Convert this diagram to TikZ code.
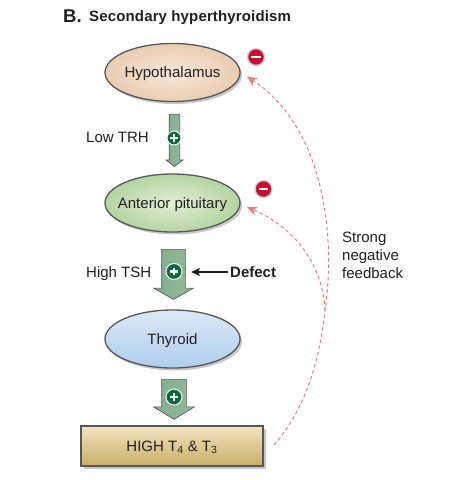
\documentclass[tikz,border=0pt]{standalone}
\usepackage{fontspec}
\setmainfont{Liberation Sans}
\usetikzlibrary{shapes.geometric,shapes.arrows,shadows,arrows.meta,calc}
\definecolor{ink}{HTML}{231F20}
\definecolor{edge}{HTML}{55585A}
\definecolor{fb}{HTML}{E2807C}
\definecolor{plusg}{HTML}{0B6B3A}
\definecolor{minusr}{HTML}{C8102E}
\definecolor{arrowtop}{HTML}{82AE8E}
\definecolor{arrowbot}{HTML}{93B89A}
\definecolor{HypoIn}{HTML}{F8E8D8}
\definecolor{HypoOut}{HTML}{EACDB2}
\definecolor{AntIn}{HTML}{E2EFD4}
\definecolor{AntOut}{HTML}{B4D4A2}
\definecolor{ThyTop}{HTML}{DCE9F6}
\definecolor{ThyBot}{HTML}{AECDEC}
\definecolor{HighTop}{HTML}{F2E4C0}
\definecolor{HighBot}{HTML}{C9AE66}
\newcommand{\fs}[1]{\fontsize{#1}{#1}\selectfont}
\newcommand{\organtext}[1]{\smash{\raisebox{-5pt}{\makebox[0pt]{#1}}}}
\tikzset{
  lab/.style={text=ink,font=\fs{15},inner sep=0pt},
  organ/.style={ellipse,draw=edge,line width=1.3pt,minimum width=135pt,minimum height=58pt,inner sep=0pt,text=ink,font=\fs{15},
    drop shadow={shadow xshift=2pt,shadow yshift=-2.5pt,opacity=.3,fill=black!70}},
  blockarrow/.style={single arrow,rotate=-90,draw=edge,line width=.7pt,inner sep=0pt,anchor=tail,
    left color=arrowtop,right color=arrowbot},
  plussign/.style={circle,fill=plusg,draw=white,line width=1pt,minimum size=#1,inner sep=0pt,
    path picture={\fill[white] ($(path picture bounding box.center)+(-3.8pt,-1.2pt)$) rectangle ($(path picture bounding box.center)+(3.8pt,1.2pt)$);
      \fill[white] ($(path picture bounding box.center)+(-1.2pt,-3.8pt)$) rectangle ($(path picture bounding box.center)+(1.2pt,3.8pt)$);}},
  minussign/.style={circle,fill=minusr,draw=black!18,line width=1.4pt,minimum size=17pt,inner sep=0pt,
    path picture={\fill[white] ($(path picture bounding box.center)+(-4.6pt,-1.4pt)$) rectangle ($(path picture bounding box.center)+(4.6pt,1.4pt)$);}},
  feedback/.style={draw=fb,line width=1pt,dash pattern=on 3.5pt off 2.8pt,
    -{Stealth[length=10pt,width=9pt,inset=3pt,fill=fb]}},
}
\begin{document}
\begin{tikzpicture}[x=1pt,y=-1pt]
\useasboundingbox[fill=white] (0,0) rectangle (458,480);
\node[anchor=base west,text=ink,inner sep=0pt,font=\fs{18.5}\bfseries] (letter) at (63,22.5) {B.};
\node[anchor=base west,text=ink,inner sep=0pt,font=\fs{15}\bfseries] (title) at (89,21) {\addfontfeatures{LetterSpace=1}Secondary hyperthyroidism};

\node[organ,inner color=HypoIn,outer color=HypoOut] (hypo) at (172.5,72.5) {\organtext{Hypothalamus}};
\node[organ,inner color=AntIn,outer color=AntOut] (ant) at (172.5,203) {\organtext{Anterior pituitary}};
\node[organ,top color=ThyTop,bottom color=ThyBot] (thy) at (172.5,339) {\organtext{Thyroid}};
\node[rectangle,draw=edge,line width=1.6pt,minimum width=182pt,minimum height=40pt,inner sep=0pt,top color=HighTop,bottom color=HighBot,text=ink,font=\fs{15},
  drop shadow={shadow xshift=2.5pt,shadow yshift=-3pt,opacity=.3,fill=black!70}] (high) at (172,446) {\organtext{HIGH T$_{\mathrm{4}}$ \& T$_{\mathrm{3}}$}};

% block arrows
\coordinate (a1) at (174.5,114);
\coordinate (a2) at (173.5,249);
\coordinate (a3) at (174,379);
\node[blockarrow,minimum height=52pt,minimum width=16pt,single arrow tip angle=106,single arrow head extend=3pt] (arrow1) at (a1) {\rule{0pt}{10pt}};
\node[blockarrow,minimum height=50pt,minimum width=39pt,single arrow tip angle=121,single arrow head extend=8pt] (arrow2) at (a2) {\rule{0pt}{23pt}};
\node[blockarrow,minimum height=40pt,minimum width=39pt,single arrow tip angle=117,single arrow head extend=8pt] (arrow3) at (a3) {\rule{0pt}{24pt}};

\node[plussign=14pt] (p1) at (174,138) {};
\node[plussign=16pt] (p2) at (174,271.5) {};
\node[plussign=16pt] (p3) at (174,397) {};

\node[lab,anchor=base west] (lowtrh) at (86,142) {Low TRH};
\node[lab,anchor=base west] (hightsh) at (86,277) {High TSH};
\node[lab,anchor=base west,font=\fs{15}\bfseries] (defect) at (230,277) {Defect};
\coordinate (d0) at (228,272);
\coordinate (d1) at (191,272);
\draw[-{Stealth[length=9pt,width=8pt,inset=2pt]},line width=1.2pt,draw=ink] (d0) -- (d1);

\node[minussign] (m1) at (256,57) {};
\node[minussign] (m2) at (263.5,189) {};

% feedback
\coordinate (fbstart) at (274,445);
\coordinate (fbjoin) at (325,310);
\coordinate (fbtip1) at (247,76.5);
\coordinate (fbtip2) at (247,207);
\draw[feedback] (fbstart) .. controls (305,410) and (320,360) .. (fbjoin)
   .. controls (335,245) and (328,130) .. (fbtip1);
\draw[feedback] (fbjoin) .. controls (323,270) and (300,230) .. (fbtip2);

\node[lab,anchor=north west,align=left,font=\fs{15}] (strong) at (342,231.5) {Strong\\[3pt]negative\\[3pt]feedback};
\end{tikzpicture}
\end{document}
